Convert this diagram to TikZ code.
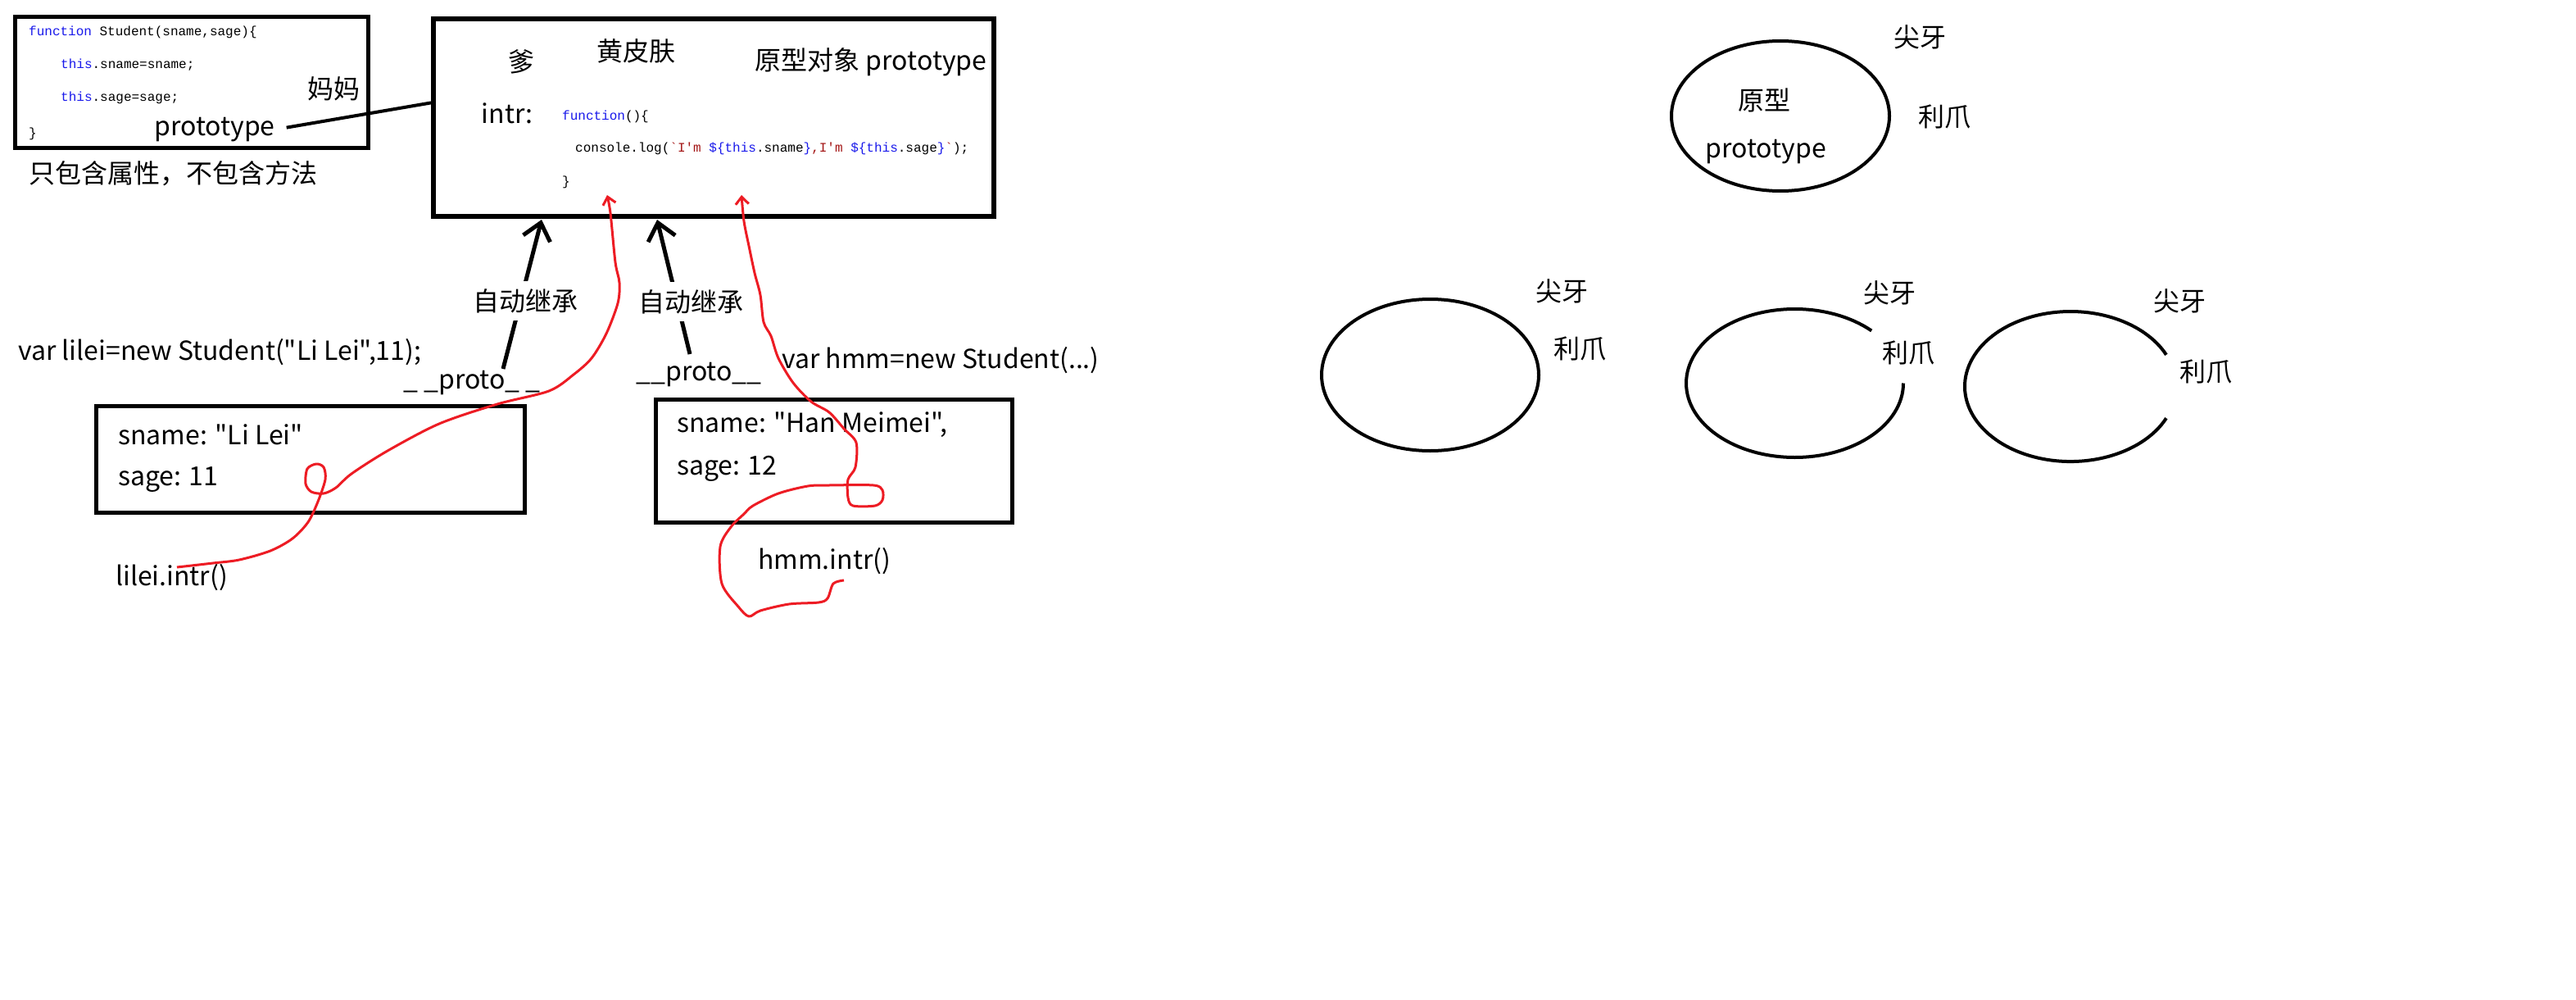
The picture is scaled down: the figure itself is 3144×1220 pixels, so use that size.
\documentclass[tikz,border=0pt]{standalone}
\usepackage{fontspec}
\setmainfont{Noto Sans CJK SC}[Ligatures=TeXOff]
\setmonofont{Liberation Mono}
\usepackage{xcolor}
\usepackage{tikz}
\usetikzlibrary{arrows.meta}
\definecolor{jskey}{RGB}{25,25,235}
\definecolor{jsstr}{RGB}{163,21,21}
\definecolor{pen}{RGB}{237,28,36}
\newcommand{\jskw}[1]{\textcolor{jskey}{#1}}
\newcommand{\jsstring}[1]{\textcolor{jsstr}{#1}}
\tikzset{
  txt/.style={font=\fontsize{32}{38}\selectfont, inner sep=0pt},
  code/.style={font=\ttfamily\fontsize{16}{19}\selectfont, inner sep=0pt, anchor=west},
  frame/.style={draw, line width=5pt, inner sep=0pt},
  inherit/.style={line width=5pt, -{Straight Barb[length=20pt,width=34pt]}},
  redpen/.style={draw=pen, line width=3pt, line join=round, -{Straight Barb[length=9pt,width=16pt]}},
  ring/.style={line width=4pt}
}

\begin{document}
\begin{tikzpicture}[x=1pt,y=-1pt]
\fill[white] (0,0) rectangle (3144,1220);

\node(mom) at (234,100.5)[frame,minimum width=431,minimum height=160]{};
\node(c1) at (35,39)[code]{\jskw{function} Student(sname,sage)\{};
\node(c2) at (74,79)[code]{\jskw{this}.sname=sname;};
\node(c3) at (74,119)[code]{\jskw{this}.sage=sage;};
\node(c4) at (35,163)[code]{\}};
\node(momlbl) at (407,108)[txt]{妈妈};
\node(momproto) at (262,158)[txt]{prototype};
\node(note) at (35,212)[txt,anchor=west]{只包含属性，不包含方法};

\node(dad) at (871,143.5)[frame,line width=6pt,minimum width=684,minimum height=241]{};
\node(dadlbl) at (636,75)[txt]{爹};
\node(skin) at (776,62)[txt]{黄皮肤};
\node(protolbl) at (1063,76)[txt]{原型对象 prototype};
\node(intr) at (619,138)[txt]{intr:};
\node(f1) at (686,142)[code]{\jskw{function}()\{};
\node(f2) at (702,181)[code]{console.log(\jsstring{`I'm }\jskw{\$\{this}.sname\jskw{\}}\jsstring{,I'm }\jskw{\$\{this}.sage\jskw{\}}\jsstring{`});};
\node(f3) at (686,222)[code]{\}};

\draw[line width=4pt,shorten <=14pt] (momproto.east) -- (dad.177);

\node(lilei) at (22,430)[txt,anchor=west]{var lilei=new Student("Li Lei",11);};
\node(lproto) at (576,467)[txt]{\_ \_proto\_ \_};
\node(lobj) at (379,560.5)[frame,minimum width=523,minimum height=130]{};
\node(lname) at (144,530)[txt,anchor=west]{sname: "Li Lei"};
\node(lage) at (144,585)[txt,anchor=west]{sage: 11};
\node(lcall) at (141,705)[txt,anchor=west]{lilei.intr()};

\node(hmm) at (954,440)[txt,anchor=west]{var hmm=new Student(...)};
\node(hproto) at (853,457)[txt]{\_\_proto\_\_};
\node(hobj) at (1018,562.5)[frame,minimum width=435,minimum height=150]{};
\node(hname) at (826,518)[txt,anchor=west]{sname: "Han Meimei",};
\node(hage) at (826,572)[txt,anchor=west]{sage: 12};
\node(hcall) at (925,685)[txt,anchor=west]{hmm.intr()};

\coordinate(lfrom) at (614,450);
\coordinate(lto) at (661,268);
\coordinate(hfrom) at (842,432);
\coordinate(hto) at (802,268);
\draw[inherit] (lfrom) -- (lto);
\draw[inherit] (hfrom) -- (hto);
\node(linh) at (641,367)[txt,fill=white,inner sep=9pt]{自动继承};
\node(hinh) at (843,368)[txt,fill=white,inner sep=9pt]{自动继承};

\coordinate(lstart) at (216,692);
\coordinate(ltip) at (741,238);
\coordinate(hstart) at (1030,708);
\coordinate(htip) at (905,238);
\draw[redpen] plot[smooth,tension=0.5] coordinates {(lstart) (260,687) (292,683) (330,672) (357,657) (376,637) (388,612) (397,585) (395,570) (386,566) (375,572) (373,590) (380,600) (395,602) (410,595) (429,578) (473,550) (536,517) (607,493) (670,477) (700,457) (722,437) (740,407) (754,370) (756,345) (751,320) (745,260) (ltip)};
\draw[redpen] plot[smooth,tension=0.5] coordinates {(hstart) (1017,712) (1010,730) (999,735) (963,737) (928,745) (914,752) (901,740) (881,712) (879,667) (892,643) (908,627) (919,617) (950,602) (986,593) (1012,592) (1066,592) (1077,598) (1077,610) (1068,617) (1041,617) (1035,607) (1035,585) (1044,570) (1045,540) (1030,523) (1012,503) (990,490) (968,467) (950,437) (941,410) (932,393) (928,360) (921,333) (914,300) (908,270) (htip)};

\draw[ring] (2173,141.5) ellipse [x radius=133, y radius=91.5];
\node(yuan) at (2153,122)[txt]{原型};
\node(yproto) at (2155,185)[txt]{prototype};
\node(fang0) at (2343,45)[txt]{尖牙};
\node(claw0) at (2373,142)[txt]{利爪};

\draw[ring] (1745.5,457.5) ellipse [x radius=132.5, y radius=92.5];
\node(fang1) at (1906,355)[txt]{尖牙};
\node(claw1) at (1928,425)[txt]{利爪};

\draw[ring] (2323,467.5) arc [start angle=0, end angle=315, x radius=132.5, y radius=90.5];
\node(fang2) at (2306,357)[txt]{尖牙};
\node(claw2) at (2329,430)[txt]{利爪};

\draw[ring] (2643.9,510.2) arc [start angle=25, end angle=335, x radius=129, y radius=91.5];
\node(fang3) at (2660,367)[txt]{尖牙};
\node(claw3) at (2692,453)[txt]{利爪};
\end{tikzpicture}
\end{document}
